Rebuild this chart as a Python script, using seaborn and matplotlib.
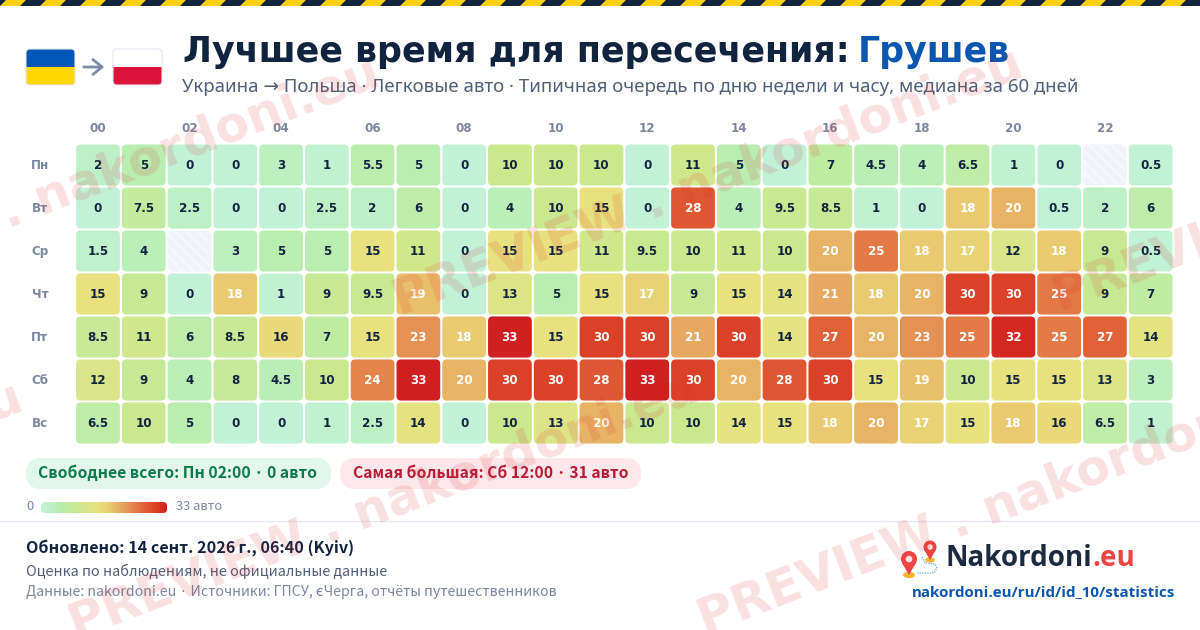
import numpy as np
import pandas as pd
import matplotlib
matplotlib.use("Agg")
import matplotlib.pyplot as plt
from matplotlib.colors import LinearSegmentedColormap
from matplotlib.patches import FancyBboxPatch, Rectangle, Polygon, Circle, Ellipse
import seaborn as sns

################################################
# Data
################################################

days = ["Пн", "Вт", "Ср", "Чт", "Пт", "Сб", "Вс"]
hours = ["%02d" % h for h in range(24)]
nan = float("nan")

mon = [2, 5, 0, 0, 3, 1, 5.5, 5, 0, 10, 10, 10, 0, 11, 5, 0, 7, 4.5, 4, 6.5, 1, 0, nan, 0.5]
tue = [0, 7.5, 2.5, 0, 0, 2.5, 2, 6, 0, 4, 10, 15, 0, 28, 4, 9.5, 8.5, 1, 0, 18, 20, 0.5, 2, 6]
wed = [1.5, 4, nan, 3, 5, 5, 15, 11, 0, 15, 15, 11, 9.5, 10, 11, 10, 20, 25, 18, 17, 12, 18, 9, 0.5]
thu = [15, 9, 0, 18, 1, 9, 9.5, 19, 0, 13, 5, 15, 17, 9, 15, 14, 21, 18, 20, 30, 30, 25, 9, 7]
fri = [8.5, 11, 6, 8.5, 16, 7, 15, 23, 18, 33, 15, 30, 30, 21, 30, 14, 27, 20, 23, 25, 32, 25, 27, 14]
sat = [12, 9, 4, 8, 4.5, 10, 24, 33, 20, 30, 30, 28, 33, 30, 20, 28, 30, 15, 19, 10, 15, 15, 13, 3]
sun = [6.5, 10, 5, 0, 0, 1, 2.5, 14, 0, 10, 13, 20, 10, 10, 14, 15, 18, 20, 17, 15, 18, 16, 6.5, 1]

df = pd.DataFrame([mon, tue, wed, thu, fri, sat, sun], index=days, columns=hours)

title_main = "Лучшее время для пересечения:"
title_place = "Грушев"
subtitle = "Украина → Польша · Легковые авто · Типичная очередь по дню недели и часу, медиана за 60 дней"
chip_free = "Свободнее всего: Пн 02:00 · 0 авто"
chip_busy = "Самая большая: Сб 12:00 · 31 авто"
updated = "Обновлено: 14 сент. 2026\u2009г., 06:40 (Kyiv)"
note = "Оценка по наблюдениям, не официальные данные"
sources = "Данные: nakordoni.eu · Источники: ГПСУ, єЧерга, отчёты путешественников"
url = "nakordoni.eu/ru/id/id_10/statistics"

################################################
# Colours and page
################################################

sns.set_theme(style="white")
cjk = ["Noto Sans CJK JP", "DejaVu Sans"]
body = ["Noto Sans", "DejaVu Sans"]

heat = LinearSegmentedColormap.from_list("queue", [
    (0.00, "#c1f2d8"), (0.15, "#b9eeb0"), (0.30, "#cbe88e"), (0.45, "#e8e280"),
    (0.55, "#e9c970"), (0.65, "#e6a45e"), (0.78, "#e2703f"), (0.90, "#dc4529"),
    (1.00, "#cf1f20")])

W, H = 1200, 630
fig = plt.figure(figsize=(12, 6.3), dpi=100, facecolor="white")

# page overlay in pixel coordinates
bg = fig.add_axes([0, 0, 1, 1], zorder=0)
bg.set_xlim(0, W)
bg.set_ylim(H, 0)
bg.axis("off")

################################################
# Heatmap
################################################

x0, x1 = 75.1, 1173.6
y0, y1 = 143.5, 444.5
ax = fig.add_axes([x0 / W, 1 - y1 / H, (x1 - x0) / W, (y1 - y0) / H], zorder=1)
sns.heatmap(df, ax=ax, cmap=heat, vmin=0, vmax=33, cbar=False, square=False,
            linewidths=0, xticklabels=False, yticklabels=False)
ax.collections[0].set_alpha(0)
ax.patch.set_alpha(0)

for r, day in enumerate(days):
    ax.text(-0.77, r + 0.51, day, ha="center", va="center", fontsize=8.6,
            fontweight="bold", color="#7b879f", clip_on=False)
    for c, hour in enumerate(hours):
        v = df.loc[day, hour]
        if np.isnan(v):
            ax.add_patch(FancyBboxPatch((c + 0.022, r + 0.022), 0.956, 0.956,
                                        boxstyle="round,pad=0,rounding_size=0.1",
                                        mutation_aspect=1.05, lw=0, fc="#f1f3f9",
                                        hatch="\\\\\\", ec="#fafbfe"))
            continue
        ax.add_patch(FancyBboxPatch((c + 0.022, r + 0.022), 0.956, 0.956,
                                    boxstyle="round,pad=0,rounding_size=0.1",
                                    mutation_aspect=1.05, lw=0, fc=heat(v / 33)))
        ax.text(c + 0.5, r + 0.51, "%g" % v, ha="center", va="center", fontsize=8.6,
                fontweight="bold", color="white" if v >= 17 else "#10233f")

for c, hour in enumerate(hours):
    if c % 2 == 0:
        ax.text(c + 0.5, -0.34, hour, ha="center", va="center", fontsize=8.6,
                fontweight="bold", color="#7b879f", clip_on=False)
for side in ax.spines.values():
    side.set_visible(False)

################################################
# Hazard stripe, flags, titles
################################################

bg.add_patch(Rectangle((0, 0), W, 6, fc="#ffd110", lw=0))
for sx in range(-20, W + 40, 40):
    bg.add_patch(Polygon([(sx + 6, 0), (sx + 26, 0), (sx + 20, 6), (sx, 6)], fc="#14233f", lw=0))


def flag(left, top, upper, lower):
    box = FancyBboxPatch((left, top), 49, 36, boxstyle="round,pad=0,rounding_size=4",
                         fc="none", ec="#e4e7ef", lw=0.8, zorder=3)
    bg.add_patch(box)
    for ypos, col in ((top, upper), (top + 18, lower)):
        part = Rectangle((left, ypos), 49, 18, fc=col, lw=0, zorder=2)
        bg.add_patch(part)
        part.set_clip_path(box)


flag(26, 49, "#0057b8", "#ffd700")
flag(113, 49, "#ffffff", "#dc143c")
bg.annotate("", xy=(107, 67), xytext=(81, 67),
            arrowprops=dict(arrowstyle="->,head_width=0.45,head_length=0.55", color="#7f8ba1", lw=2.0))

bg.text(183, 52, title_main, fontsize=25.1, fontweight="bold", family="DejaVu Sans",
        color="#12233f", ha="left", va="center")
bg.text(1010, 52, title_place, fontsize=25, fontweight="bold", family="DejaVu Sans",
        color="#0b57b0", ha="right", va="center")
bg.text(182, 87, subtitle, fontsize=13.38, family=body, color="#4f5f79", ha="left", va="center")

################################################
# Chips and gradient legend
################################################

bg.add_patch(FancyBboxPatch((26, 458), 305, 31, boxstyle="round,pad=0,rounding_size=15.5", fc="#e3f6ec", lw=0))
bg.add_patch(FancyBboxPatch((340, 458), 301, 31, boxstyle="round,pad=0,rounding_size=15.5", fc="#fde7ea", lw=0))
bg.text(178, 473, chip_free, fontsize=11.3, fontweight="bold", family=cjk, color="#0c7a4b", ha="center", va="center")
bg.text(491, 473, chip_busy, fontsize=11.3, fontweight="bold", family=cjk, color="#b91c35", ha="center", va="center")

bar = FancyBboxPatch((41, 502), 126, 11, boxstyle="round,pad=0,rounding_size=4", fc="none", lw=0)
bg.add_patch(bar)
im = bg.imshow(np.linspace(0, 1, 256).reshape(1, -1), cmap=heat, extent=(41, 167, 513, 502), aspect="auto", zorder=1)
im.set_clip_path(bar)
bg.set_xlim(0, W)
bg.set_ylim(H, 0)
bg.text(26, 507, "0", fontsize=9.3, family=cjk, color="#7b879f", ha="left", va="center")
bg.text(176, 507, "33 авто", fontsize=9.3, family=cjk, color="#7b879f", ha="left", va="center")

################################################
# Footer
################################################

bg.plot([0, W], [521, 521], color="#e5e8f1", lw=1)
bg.text(26, 548, updated, fontsize=11.6, fontweight="bold", family=cjk, color="#12233f", ha="left", va="center")
bg.text(26, 571, note, fontsize=10.33, family=cjk, color="#4f5f79", ha="left", va="center")
bg.text(26, 592, sources, fontsize=10.23, family=cjk, color="#7b879f", ha="left", va="center")


def pin(px, py, r):
    bg.add_patch(Ellipse((px, py + r * 2.0), r * 1.5, r * 0.8, fc="#f7b733", lw=0, zorder=2))
    bg.add_patch(Polygon([(px - r * 0.92, py + r * 0.4), (px + r * 0.92, py + r * 0.4), (px, py + r * 2.0)],
                         fc="#ef4444", lw=0, zorder=3))
    bg.add_patch(Circle((px, py), r, fc="#ef4444", lw=0, zorder=3))
    bg.add_patch(Circle((px, py), r * 0.42, fc="#fde2e2", lw=0, zorder=4))


bg.plot([922, 925, 935, 937, 934, 917], [557, 563, 564, 568, 573, 573], color="#62a8d8", lw=0.9, ls=(0, (1, 1)), zorder=2)
pin(909, 559, 8)
pin(930, 547, 6.5)
bg.text(945, 558, "Nakordoni", fontsize=20, fontweight="bold", family="Open Sans",
        color="#1c2a40", ha="left", va="center")
bg.text(1135, 558, ".eu", fontsize=20, fontweight="bold", family="Open Sans", color="#ef4444", ha="right", va="center")
bg.text(1175, 592, url, fontsize=10.9, fontweight="bold", family="Open Sans", color="#0b57b0", ha="right", va="center")

################################################
# Watermark on top of everything
################################################

mark = fig.add_axes([0, 0, 1, 1], zorder=5)
mark.set_xlim(0, W)
mark.set_ylim(H, 0)
mark.axis("off")
for mx, my in [(-243, 325), (400, 316), (76, 640), (705, 635), (1060, 312), (-600, 650)]:
    mark.text(mx, my, "PREVIEW . nakordoni.eu", rotation=21, rotation_mode="anchor",
              fontsize=35.5, fontweight="bold", family="DejaVu Sans", color="#dc2626",
              alpha=0.14, ha="left", va="baseline", clip_on=True)

fig.savefig("out.png", dpi=100)
